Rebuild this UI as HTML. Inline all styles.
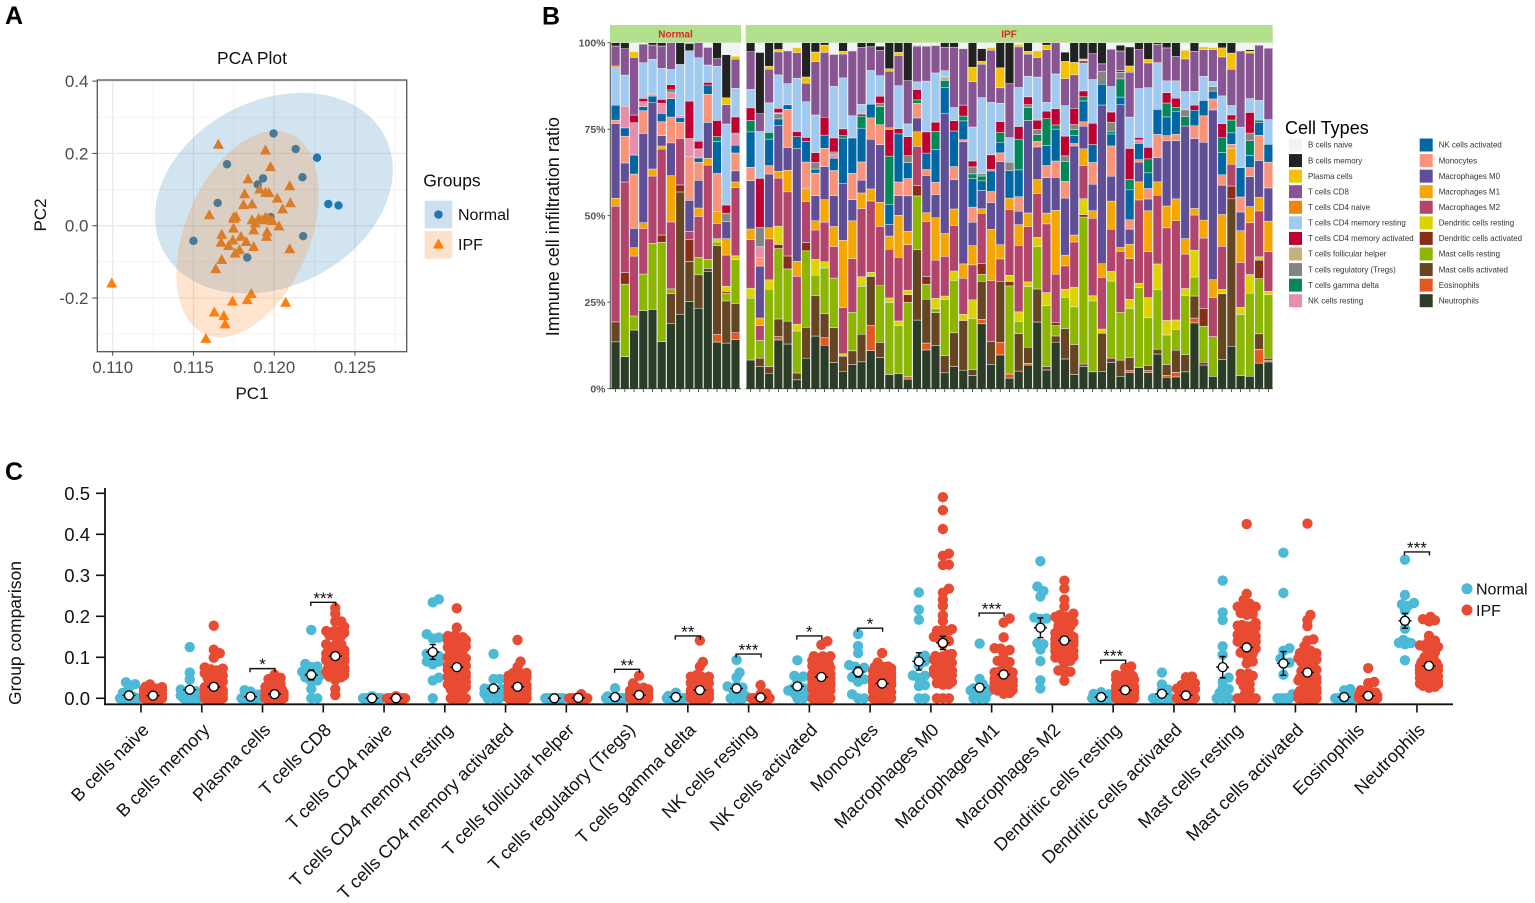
<!DOCTYPE html>
<html lang="en">
<head>
<meta charset="utf-8">
<title>Immune cell infiltration figure</title>
<style>
html,body{margin:0;padding:0;background:#fff}
svg{display:block}
text{font-family:"Liberation Sans",sans-serif}
</style>
</head>
<body>
<svg id="fig" width="1535" height="903" viewBox="0 0 1535 903" xmlns="http://www.w3.org/2000/svg">
  <rect width="1535" height="903" fill="#fff"/>
  <text x="5" y="24" font-size="25" font-weight="bold" fill="#000">A</text>
  <text x="542" y="24.5" font-size="25" font-weight="bold" fill="#000">B</text>
  <text x="5" y="480" font-size="25" font-weight="bold" fill="#000">C</text>

  <g id="panelA">
    <text x="252" y="64" font-size="17.5" text-anchor="middle" fill="#111">PCA Plot</text>
    <text x="252" y="399" font-size="17" text-anchor="middle" fill="#111">PC1</text>
    <text transform="translate(46,215) rotate(-90)" font-size="17" text-anchor="middle" fill="#111">PC2</text>
    <text x="423.3" y="186.7" font-size="17.5" fill="#111">Groups</text>
    <g>
      <rect x="424.7" y="200.7" width="27.6" height="27.6" fill="#cfe1ee"/>
      <circle cx="438.5" cy="214.5" r="4.3" fill="#1f78b4"/>
      <text x="458" y="220" font-size="16" fill="#111">Normal</text>
    </g>
    <g>
      <rect x="424.7" y="231" width="27.6" height="27.6" fill="#fbe2cd"/>
      <path d="M438.5 238.5l5.6 10h-11.2z" fill="#ff7f0e"/>
      <text x="458" y="250" font-size="16" fill="#111">IPF</text>
    </g>
  </g>

  <g id="panelB">
    <rect x="610" y="25" width="131" height="18" fill="#b2e08c"/>
    <text x="675.5" y="37.5" font-size="10" font-weight="bold" text-anchor="middle" fill="#d7282a">Normal</text>
    <rect x="745.7" y="25" width="527" height="18" fill="#b2e08c"/>
    <text x="1009" y="37.5" font-size="10" font-weight="bold" text-anchor="middle" fill="#d7282a">IPF</text>
    <text transform="translate(559,226.7) rotate(-90)" font-size="18" text-anchor="middle" fill="#111">Immune cell infiltration ratio</text>
    <text x="1285" y="134" font-size="18" fill="#000">Cell Types</text>
  </g>

  <g id="panelC">
    <text transform="translate(21,633) rotate(-90)" font-size="17.5" text-anchor="middle" fill="#111">Group comparison</text>
    <g>
      <circle cx="1467" cy="588.7" r="5.5" fill="#4cb9d6"/>
      <text x="1476" y="594.5" font-size="16" fill="#111">Normal</text>
    </g>
    <g>
      <circle cx="1467" cy="610" r="5.5" fill="#e84b32"/>
      <text x="1476" y="616" font-size="16" fill="#111">IPF</text>
    </g>
  </g>
</svg>

<script>
/* ---------- Panel A data ---------- */
const pcaXTicks = [0.110, 0.115, 0.120, 0.125];
const pcaXMinor = [0.1125, 0.1175, 0.1225, 0.1275];
const pcaYTicks = [0.4, 0.2, 0.0, -0.2];
const pcaYMinor = [0.3, 0.1, -0.1, -0.3];
const normalPC1 = [.11996,.12133,.12265,.11708,.11931,.11898,.12175,.1165,.12335,.12398,.11977,.12179,.115,.11833];
const normalPC2 = [.255,.212,.188,.170,.131,.114,.134,.063,.060,.056,.024,-.029,-.042,-.088];
const ipfPC1 = [.11654,.11946,.11977,.11838,.12096,.1191,.11946,.11967,.11817,.12019,.1181,.11863,.1210,.12052,.11598,.11748,.11763,.11752,.11863,.11904,.11946,.11967,.11883,.11925,.11988,.12029,.11873,.11748,.11675,.11956,.11794,.11952,.11744,.11671,.11827,.11717,.11873,.11785,.11758,.12096,.11675,.11638,.10994,.11858,.11742,.11833,.12071,.11629,.11688,.11696,.11577];
const ipfPC2 = [.224,.208,.162,.128,.109,.100,.091,.090,.087,.075,.057,.059,.062,.045,.029,.022,.024,.019,.015,.019,.022,.019,.006,.015,.013,-.002,-.013,-.008,-.025,-.018,-.031,-.031,-.041,-.047,-.045,-.056,-.059,-.068,-.077,-.065,-.095,-.120,-.160,-.189,-.210,-.206,-.213,-.240,-.250,-.273,-.313];
const normalEllipse = [0.11998, 0.0900, 0.00736, 0.2775, 0.235];
const ipfEllipse = [0.11835, -0.0230, 0.00441, 0.2858, 0.386];

/* ---------- Panel B data (legend order, top of stack first) ---------- */
const cellTypes = ["B cells naive","B cells memory","Plasma cells","T cells CD8","T cells CD4 naive","T cells CD4 memory resting","T cells CD4 memory activated","T cells follicular helper","T cells regulatory (Tregs)","T cells gamma delta","NK cells resting","NK cells activated","Monocytes","Macrophages M0","Macrophages M1","Macrophages M2","Dendritic cells resting","Dendritic cells activated","Mast cells resting","Mast cells activated","Eosinophils","Neutrophils"];
const cellColors = ["#f2f3f4","#222222","#f3c300","#875692","#f38400","#a1caf1","#be0032","#c2b280","#848482","#008856","#e68fac","#0067a5","#f99379","#604e97","#f6a600","#b3446c","#dcd300","#882d17","#8db600","#654522","#e25822","#2b3d26"];
const stackTicks = ["0%","25%","50%","75%","100%"];
const stackTickValues = [0, 25, 50, 75, 100];
/* each sample lists percentages bottom of stack first (Neutrophils … B cells naive) */
const normalSamples = [
[14.1,0,6,0,0,0,34.8,2.4,22.5,1,4.5,0,0,0,0,0,11.3,.5,6,0,1,0],
[9.6,0,0,21.7,3.5,0,27.1,0,5.7,8,2.5,6.5,0,0,0,0,9.3,0,7.9,0,1.8,0],
[17.6,0,0,4.2,0,0,18,2.5,5.8,16.3,5.7,9.7,0,0,0,2.3,0,0,17.3,1.7,0,2.7],
[23.4,0,0,11,0,0,13.7,1.7,26.8,6.8,1.2,1.5,0,0,0,1,10.7,0,5.6,0,0,.4],
[23.8,0,0,19.8,0,0,20.2,2.1,19.9,0,2,.6,0,0,0,0,10.4,0,4.3,0,.7,0],
[14.1,0,0,29.8,2.2,0,25.8,.9,3.1,4.2,2.5,3,0,0,0,1.2,9.3,0,6.7,0,1,0],
[19.4,0,9,1.4,0,0,20,13.8,9.8,7.7,5.5,2,.6,0,0,1.6,4.5,0,8,0,0,0],
[22.1,0,36.7,0,2.1,0,13.9,0,0,4.8,1.4,.6,0,0,0,0,15.3,0,0,0,6.5,0],
[26.1,0,12,0,6.5,0,2.5,0,9.3,13.2,0,5.3,0,0,0,11.2,15.1,0,0,0,2.2,.2],
[24.1,0,10,5.2,0,0,12.3,2.5,8.3,5.4,1.3,2.7,0,0,0,2.3,25,0,4.5,0,0,0],
[35.1,0,1,2.7,0,0,28.3,2,10.8,8.4,2.8,0,0,0,0,.8,5.2,0,5.3,0,0,1.4],
[13.8,2.3,26.3,1,0,1,4.5,3.5,0,11.3,9.5,0,1.4,0,0,4.8,16,0,2.3,0,4.7,0],
[13.4,0,12.4,2.3,.5,1.5,9.2,4.8,5,0,0,0,0,2.5,0,2.4,23.8,0,5.7,2,12.7,3.5],
[14.6,2,8.7,13,0,1.1,20.2,1.7,3.3,5.3,2.3,3.1,0,.5,0,4.8,8.5,0,8.6,.9,0,4]
];
const ipfSamples = [
[8.6,0,0,18.5,0,3,14.5,3.2,14.5,4,10.6,0,3.4,0,0,3.8,5.5,0,11.3,0,2.7,0],
[6.6,0,2.5,5.3,0,0,4.4,2.3,15.5,2.5,0,3.3,0,5.7,0,14.7,14,0,5.3,0,18.3,2.9],
[4.6,0,2,23,0,2.8,12.2,3.3,16,2.5,7.9,0,2,0,0,0,8.8,0,10,.9,7,0],
[14.4,1,5.2,20.8,1.2,5.4,14.2,2,13.5,0,2,0,0,1.5,.3,1.3,9.9,0,6.8,.7,2,0],
[13.1,0,6.7,15.3,3.8,0,18.8,6.3,6.7,11.2,1.3,0,0,0,0,0,6.2,0,9.6,0,0,2.4],
[2.6,0,2,12.3,0,2,14,4.4,33,0,3.5,0,0,0,0,1.5,15.6,0,7.5,1.4,0,1.5],
[8.9,0,9,22.3,2.4,0,12,3.7,0,7.8,6,0,0,0,0,1.2,10.4,0,5.4,1.8,10,0],
[15.3,0,11.7,6,0,4.6,8.5,2.7,7.3,6.5,1.2,0,0,1.9,0,2.9,10.9,0,15.5,2.8,2.7,0],
[12.6,2.2,7,13.2,0,1.8,11.5,6.5,9.6,5.3,3.8,0,0,0,0,5.2,0,0,18.8,2.1,.7,0],
[7.6,0,10.2,14.4,0,0,9.2,5.8,9,7.3,3.6,1.2,0,.6,0,4.1,15,0,9.3,0,0,3.4],
[5.1,0,4.4,0,0,.7,13.5,19.7,16.7,0,13.2,0,.7,0,0,2,14.9,0,7,.8,2.5,0],
[7.1,0,4,11.3,0,0,15.7,11.1,6.2,7.7,10.4,0,0,0,0,0,6.5,0,19,0,0,2.4],
[7.8,0,8,13.9,0,2.8,19.8,4.5,3.7,5.3,9.8,0,3.5,0,0,.6,2.8,0,16.5,0,1.4,0],
[11.1,7.4,14.2,0,0,1.2,20.8,3.5,14.5,6.2,4,0,0,0,0,0,9.8,0,6.9,0,1.2,0],
[9.1,0,4.4,16.5,0,0,17.3,7,16.8,5.8,0,0,5.3,1,0,2,6,0,7.4,0,1.2,1],
[4.1,0,0,20.7,0,1.3,14,3.8,3.3,0,5.7,0,14,0,0,7.6,0,.5,16.3,.7,7.5,0],
[4.4,0,0,14,0,1.3,18.5,12.2,5.7,4,14,0,0,0,0,1.5,12.5,0,8.8,.9,2.8,0],
[2.8,.7,0,21.5,2.2,1.3,13.2,3.8,10.3,5,4.6,0,0,2,0,5.5,3.7,0,12.5,0,11,0],
[19.8,0,20.3,15.5,3,0,11.3,4.2,4,4.2,0,0,1,0,0,3,2.2,0,10.3,.3,0,.7],
[11.3,2,12.8,4.3,2.3,0,16.1,2.5,10.9,1.7,4.8,0,0,0,0,6.2,14.8,0,10.2,0,0,1],
[12.6,0,9.5,1.2,0,3,11.1,12.3,6.7,3.6,9.5,0,5.3,0,0,2.7,14.3,0,8,0,0,.8],
[4.6,0,5,16.2,0,1,11.5,6.6,34.8,0,7.4,0,2.1,0,1,0,1.8,0,6.8,0,1.3,0],
[6.4,0,9.8,15.2,0,2.7,13.2,4.8,8.5,3.8,10.3,0,0,0,0,3,3.8,0,17.5,0,1.3,0],
[5.4,0,14.5,0,0,1.8,10.5,4.2,35.6,.6,5.5,0,1.4,0,0,3.2,0,0,16.5,0,0,1.7],
[3.8,0,1.7,14.5,0,5.4,10,5.5,6.7,4.3,8.2,0,1.3,2,0,1.7,9.7,0,13,4.1,7,0],
[18.8,1.3,11,2,3.2,0,14.5,1.3,5.3,0,2.8,0,1.4,.7,0,0,22,0,9.7,.8,3.7,1.7],
[7.1,0,6.7,0,0,0,17.7,15,7.8,3.2,6,0,0,.5,0,4.2,15.3,0,15.2,.8,0,1.4],
[9.8,3.7,17.7,0,0,0,6.5,4.1,24.2,2.5,3.1,0,2.8,0,0,3.2,5.3,0,4.5,5.8,7.3,0],
[3.1,1.2,0,25.8,1.3,1.8,19.3,3.3,0,0,8,0,0,2.5,0,0,7.2,0,15.8,0,12,0],
[5.1,0,10.9,3.5,0,2.8,19.3,6,3.9,4.2,7.8,0,8.9,0,0,3.7,11.3,0,11.8,.7,0,.5],
[6.9,.5,4.7,17.7,0,1.4,16.1,4,27,0,0,0,3.8,.8,0,2.3,6,0,6.5,.8,2.5,0],
[19.4,0,9.6,12.3,0,2.7,12.7,4.1,9.5,1.6,0,0,2,1.5,0,2.7,12.5,0,5.7,1.9,0,2.4],
[5.4,0,1,17.5,0,3.8,19.8,3.1,10.2,3.5,5.8,0,7.7,0,0,2.2,2.5,0,15.2,1.3,.7,0],
[13.4,0,1.8,3,.8,0,14,18.4,9.5,4.7,9.2,0,1.2,0,0,4.7,10,0,9,0,0,0],
[8.6,0,8.8,9,0,2.3,6.8,3.1,16.5,4.8,0,0,5.7,1.7,0,5.7,8.8,0,7.8,5,2.7,2.7],
[4.1,0,8.7,10.9,0,5.7,13.1,2,25.8,.7,2.3,0,1.7,1.5,0,4.7,0,0,9.7,3.6,5.7,0],
[6.4,0,.7,42.4,.7,4.6,9.6,4.8,6.5,1.3,6,0,1.2,0,0,1.7,7.9,0,.8,.5,4.7,0],
[4.9,0,0,20.6,0,1.5,22.5,2.2,7.7,6.3,5.2,0,0,0,0,6.2,12.7,0,7.5,0,3.2,0],
[5.1,0,11.2,0,0,1.2,15.2,4,46.6,0,6.1,0,0,3.7,0,0,0,0,2.3,0,6.2,0],
[7.6,0,1.3,22.5,0,2.8,12.3,8.2,7.3,8.8,3.5,0,.8,2.6,0,3,7.4,0,10.9,0,0,1.9],
[3.6,0,4.7,13.9,0,0,17.7,1.1,41.5,0,2.2,0,5.3,1.9,0,.5,0,0,5.7,0,1.7,.7],
[4.6,.7,3.7,14.1,0,2.6,11.7,4.1,4.4,2.7,8.6,0,3,0,0,8.9,9,0,12.9,1.8,5.5,1.2],
[6.1,0,0,23,0,1.3,24,5.2,5.7,.7,4.7,1,0,0,0,.7,14.1,0,11.2,0,2,0],
[4.6,.6,1.5,13.7,0,5.7,13.2,11.7,3.4,3,4.5,0,4,0,0,3.3,17.1,0,7.1,1,4.8,0],
[10.1,0,1.4,17.3,0,7.5,20,3.9,7.1,6.7,7.3,0,0,0,0,0,13.6,0,5.3,0,.5,0],
[3.3,.5,3.2,8.5,0,4.2,26.7,6.3,18.8,1.5,5.4,0,4,0,0,3,3.4,0,9.5,0,1.5,0],
[3.4,1.3,6.4,6,0,2.7,28.6,6.3,16.8,1.8,6.5,0,1.2,0,0,2.7,5,0,7,0,4,0],
[4.9,0,5,17.2,0,2,10,4.5,32.7,0,0,0,2.7,2,0,0,5.3,0,9.5,2.5,0,2.2],
[19.1,1.4,6.4,5.5,0,7.8,10.2,1.9,20.3,3.7,4.5,0,0,0,0,1.5,4,0,11.6,0,2.5,0],
[6.9,0,.8,10.5,5.2,0,20.5,5.2,22.7,7.7,4.5,0,0,0,0,0,7,0,7.8,.8,0,1.2],
[3.6,0,0,11.6,0,0,11.4,5.2,49.5,3.2,2.3,0,0,1.3,0,0,1.5,0,9.3,.6,0,1.4],
[8.4,0,19.1,0,0,1.2,12.5,9.2,8.5,3,6.4,0,4.3,0,0,4.1,8,0,11.3,2.6,1.5,0],
[12.3,0,42.7,0,3.7,0,6.3,4.6,0,1.2,3.3,0,3.7,0,0,1.5,2.7,0,10.5,4.7,3,0],
[3.8,0,0,18,0,2.1,13.2,9.3,5.5,4.4,8.6,0,0,0,0,0,11.9,0,22.4,0,0,2.4],
[3.6,0,0,24.1,0,5.4,15,4.7,8.7,2.6,3.5,0,4.3,2.2,0,6,4,0,13.2,.5,.5,2],
[7.4,4,4.5,16,5.3,1,13.3,3.9,10.7,7.3,3.7,0,.7,0,0,0,5.7,0,16,0,0,.7],
[7.8,.5,.6,18.5,0,1,11.5,8.9,9.7,7.5,5.2,0,0,0,0,0,7.2,0,20.8,0,0,1.6]
];

/* ---------- Panel C data (summary values, same category order as cellTypes) ---------- */
const compTicks = [0, 0.1, 0.2, 0.3, 0.4, 0.5];
const normalMeans = [.007,.021,.004,.057,0,.113,.024,0,.003,.003,.024,.029,.064,.09,.026,.172,.003,.011,.076,.085,.003,.189];
const ipfMeans = [.0065,.028,.01,.103,0,.076,.028,.001,.008,.02,.002,.052,.036,.135,.058,.141,.02,.007,.124,.063,.006,.079];
const normalSem = [.004,.007,.002,.012,0,.018,.007,0,.002,.001,.008,.006,.012,.021,.009,.024,.001,.005,.026,.029,.002,.018];
const ipfSem = [.001,.004,.002,.006,0,.006,.003,.001,.001,.003,.001,.004,.003,.016,.005,.006,.002,.002,.008,.007,.002,.005];
const sigCategories = ["Plasma cells","T cells CD8","T cells regulatory (Tregs)","T cells gamma delta","NK cells resting","NK cells activated","Monocytes","Macrophages M1","Dendritic cells resting","Neutrophils"];
const sigLabels = ["*","***","**","**","***","*","*","***","***","***"];
const sigHeights = [.0724,.234,.0707,.152,.108,.152,.171,.208,.093,.357];

/* ---------- helpers and scales ---------- */
const NS = "http://www.w3.org/2000/svg";
function mk(tag, attrs, parent) {
  const e = document.createElementNS(NS, tag);
  for (const k in attrs) e.setAttribute(k, attrs[k]);
  parent.appendChild(e);
  return e;
}
const panelA = document.getElementById("panelA");
const panelB = document.getElementById("panelB");
const panelC = document.getElementById("panelC");

const pcaX = v => 112.7 + (v - 0.11) * 16150;
const pcaY = v => 225.7 - v * 361.5;
const stackY = p => 388.7 - p * 3.46;
const normalBarX = i => 611 + (i + 0.5) * 9.22;
const ipfBarX = i => 746 + (i + 0.5) * 9.245;
const compY = v => 698.3 - v * 410;
const compX = i => 141 + i * 60.76;

/* ---------- Panel A drawing ---------- */
(function () {
  const L = 97.3, R = 406.7, T = 80, B = 351.7;
  const gridG = mk("g", {}, panelA);
  
  
  pcaXMinor.forEach(v => {
    if (pcaX(v) > R) return;
    const l = mk("line", {x1: pcaX(v), x2: pcaX(v), y1: T, y2: B, stroke: "#f0f0f0", "stroke-width": 0.8}, gridG);
    
    
  });
  pcaYMinor.forEach(v => {
    const l = mk("line", {x1: L, x2: R, y1: pcaY(v), y2: pcaY(v), stroke: "#f0f0f0", "stroke-width": 0.8}, gridG);
    
    
  });
  pcaXTicks.forEach(v => {
    const l = mk("line", {x1: pcaX(v), x2: pcaX(v), y1: T, y2: B, stroke: "#e9e9e9", "stroke-width": 1.3}, gridG);
    
    
    const t = mk("text", {x: pcaX(v), y: 373, "font-size": 16.8, "text-anchor": "middle", fill: "#4d4d4d"}, panelA);
    t.textContent = v.toFixed(3);
    
    
  });
  pcaYTicks.forEach(v => {
    const l = mk("line", {x1: L, x2: R, y1: pcaY(v), y2: pcaY(v), stroke: "#e9e9e9", "stroke-width": 1.3}, gridG);
    
    
    const t = mk("text", {x: 88.5, y: pcaY(v) + 6, "font-size": 17, "text-anchor": "end", fill: "#4d4d4d"}, panelA);
    t.textContent = v.toFixed(1);
    
    
    const tk = mk("line", {x1: L - 5, x2: L, y1: pcaY(v), y2: pcaY(v), stroke: "#444", "stroke-width": 1}, panelA);
    
    
  });
  normalPC1.forEach((v, i) => {
    const c = mk("circle", {cx: pcaX(v), cy: pcaY(normalPC2[i]), r: 4.2, fill: "#1f78b4"}, panelA);
    
    
  });
  ipfPC1.forEach((v, i) => {
    const x = pcaX(v), y = pcaY(ipfPC2[i]);
    const t = mk("path", {d: `M${x} ${y - 6}L${x + 5.5} ${y + 4}H${x - 5.5}Z`, fill: "#ff7f0e"}, panelA);
    
    
  });
  function ellipseD(p) {
    const phase = Math.acos(p[4]);
    let d = "";
    for (let a = 0; a < 120; a++) {
      const t = a / 120 * 2 * Math.PI;
      const x = pcaX(p[0] + p[2] * Math.cos(t));
      const y = pcaY(p[1] + p[3] * Math.cos(t - phase));
      d += (a ? "L" : "M") + x.toFixed(1) + " " + y.toFixed(1);
    }
    return d + "Z";
  }
  const e1 = mk("path", {d: ellipseD(normalEllipse), fill: "#1f78b4", "fill-opacity": 0.2}, panelA);
  
  
  const e2 = mk("path", {d: ellipseD(ipfEllipse), fill: "#ff7f0e", "fill-opacity": 0.2}, panelA);
  
  
  const border = mk("rect", {x: L, y: T, width: R - L, height: B - T, fill: "none", stroke: "#555", "stroke-width": 1.3}, panelA);
  
  
  pcaXTicks.forEach(v => {
    const tk = mk("line", {x1: pcaX(v), x2: pcaX(v), y1: B, y2: B + 4, stroke: "#444", "stroke-width": 1}, panelA);
    
    
  });
})();

/* ---------- Panel B drawing ---------- */
(function () {
  function drawBar(sample, cx, groupName) {
    const total = sample.reduce((a, b) => a + b, 0);
    let cum = 0;
    sample.forEach((v, s) => {
      if (v <= 0) return;
      const p0 = cum / total * 100;
      cum += v;
      const p1 = cum / total * 100;
      const r = mk("rect", {x: cx - 4.3, width: 8.6, y: stackY(p1), height: stackY(p0) - stackY(p1),
        fill: cellColors[21 - s], stroke: "#ececec", "stroke-width": 0.5}, panelB);
      
      
    });
    const tk = mk("line", {x1: cx, x2: cx, y1: 388.7, y2: 392, stroke: "#333", "stroke-width": 0.8}, panelB);
    
    
  }
  normalSamples.forEach((s, i) => drawBar(s, normalBarX(i), 'normal-bar'));
  ipfSamples.forEach((s, i) => drawBar(s, ipfBarX(i), 'ipf-bar'));
  const ax1 = mk("line", {x1: 610, x2: 741, y1: 388.7, y2: 388.7, stroke: "#333", "stroke-width": 0.9}, panelB);
  
  
  const ax2 = mk("line", {x1: 745.7, x2: 1272.7, y1: 388.7, y2: 388.7, stroke: "#333", "stroke-width": 0.9}, panelB);
  
  
  const ay = mk("line", {x1: 610.3, x2: 610.3, y1: 43, y2: 389, stroke: "#444", "stroke-width": 1}, panelB);
  
  
  stackTickValues.forEach((v, i) => {
    const t = mk("text", {x: 605.5, y: stackY(v) + 3.7, "font-size": 10.5, "font-weight": "bold", "text-anchor": "end", fill: "#555"}, panelB);
    t.textContent = stackTicks[i];
    
    
    const tk = mk("line", {x1: 607.5, x2: 610.5, y1: stackY(v), y2: stackY(v), stroke: "#333", "stroke-width": 0.8}, panelB);
    
    
  });
  cellTypes.forEach((name, i) => {
    const col = i < 11 ? 0 : 1;
    const row = col ? i - 11 : i;
    const kx = col ? 1419.7 : 1289, tx = col ? 1438.7 : 1308;
    const cy = 145 + row * 15.57;
    const g = mk("g", {}, panelB);
    
    
    const r = mk("rect", {x: kx, y: cy - 6.5, width: 13, height: 13, fill: cellColors[i]}, g);
    
    
    const t = mk("text", {x: tx, y: cy + 2.7, "font-size": 7.95, fill: "#333"}, g);
    t.textContent = name;
    
    
  });
})();

/* ---------- Panel C drawing ---------- */
(function () {
  function swarm(values, cx, fill, name) {
    const pts = values.map(v => compY(v)).sort((a, b) => b - a);
    const offsets = [0, 3, -3, 6, -6, 9, -9, 1.5, -1.5, 4.5, -4.5, 7.5, -7.5];
    const placed = [];
    pts.forEach(y => {
      let best = 0, bestD = -1;
      for (const o of offsets) {
        let d = 1e9;
        placed.forEach(p => { d = Math.min(d, Math.hypot(p[0] - o, p[1] - y)); });
        if (d >= 5.5) { best = o; bestD = 1e9; break; }
        if (d > bestD) { bestD = d; best = o; }
      }
      placed.push([best, y]);
      const c = mk("circle", {cx: cx + best, cy: y, r: 5.2, fill: fill}, panelC);
      
      
    });
  }
  function marker(mean, sem, cx) {
    const y = compY(mean), y0 = compY(mean - sem), y1 = compY(mean + sem);
    const g = mk("g", {stroke: "#000", "stroke-width": 1.4, fill: "none"}, panelC);
    
    
    const a = mk("line", {x1: cx, x2: cx, y1: y0, y2: y1}, g);
    
    
    const b = mk("line", {x1: cx - 3, x2: cx + 3, y1: y0, y2: y0}, g);
    
    
    const c = mk("line", {x1: cx - 3, x2: cx + 3, y1: y1, y2: y1}, g);
    
    
    const d = mk("line", {x1: cx - 6.5, x2: cx + 6.5, y1: y, y2: y}, g);
    
    
    const e = mk("circle", {cx: cx, cy: y, r: 4.5, fill: "#fff", "stroke-width": 1.3}, g);
    
    
  }
  cellTypes.forEach((name, i) => {
    const s = 21 - i;
    const frac = sample => sample[s] / sample.reduce((a, b) => a + b, 0);
    swarm(normalSamples.map(frac), compX(i) - 12, "#4cb9d6", 'normal-point');
    swarm(ipfSamples.map(frac), compX(i) + 12, "#e84b32", 'ipf-point');
  });
  cellTypes.forEach((name, i) => {
    marker(normalMeans[i], normalSem[i], compX(i) - 12);
    marker(ipfMeans[i], ipfSem[i], compX(i) + 12);
    const tk = mk("line", {x1: compX(i), x2: compX(i), y1: 704.3, y2: 712.5, stroke: "#111", "stroke-width": 1.6}, panelC);
    
    
    const t = mk("text", {transform: `translate(${compX(i) + 9},731) rotate(-45)`, "font-size": 18, "text-anchor": "end", fill: "#111"}, panelC);
    t.textContent = name;
    
    
  });
  compTicks.forEach(v => {
    const tk = mk("line", {x1: 96, x2: 105, y1: compY(v), y2: compY(v), stroke: "#111", "stroke-width": 1.6}, panelC);
    
    
    const t = mk("text", {x: 90, y: compY(v) + 6.5, "font-size": 18.5, "text-anchor": "end", fill: "#111"}, panelC);
    t.textContent = v.toFixed(1);
    
    
  });
  const yAxis = mk("line", {x1: 105, x2: 105, y1: 488, y2: 705, stroke: "#111", "stroke-width": 1.8}, panelC);
  
  
  const xAxis = mk("line", {x1: 104, x2: 1453, y1: 704.3, y2: 704.3, stroke: "#111", "stroke-width": 1.8}, panelC);
  
  
  sigCategories.forEach((cat, k) => {
    const cx = compX(cellTypes.indexOf(cat));
    const y = compY(sigHeights[k]);
    const p = mk("path", {d: `M${cx - 12.5} ${y + 3.6}V${y}H${cx + 12.5}V${y + 3.6}`, fill: "none", stroke: "#111", "stroke-width": 1.4}, panelC);
    
    
    const t = mk("text", {x: cx, y: y + 1.5, "font-size": 17, "text-anchor": "middle", fill: "#111"}, panelC);
    t.textContent = sigLabels[k];
    
    
  });
})();
</script>
</body>
</html>
